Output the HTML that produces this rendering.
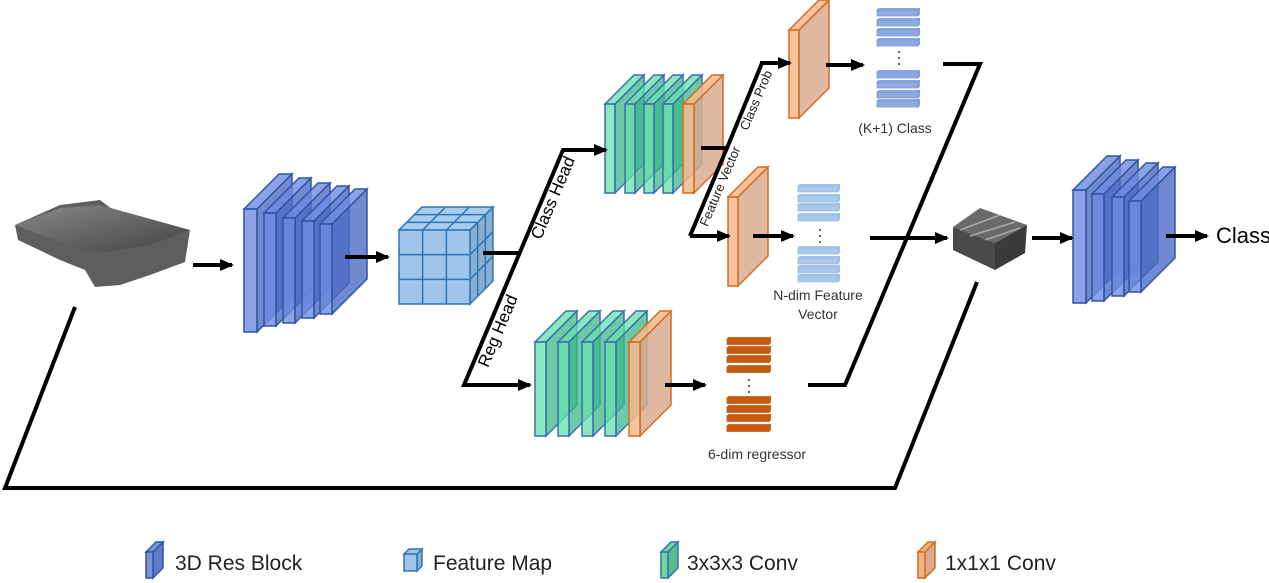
<!DOCTYPE html>
<html><head><meta charset="utf-8"><style>
html,body{margin:0;padding:0;background:#fff;}
svg{display:block;font-family:"Liberation Sans",sans-serif;}
</style></head><body>
<svg id="s" width="1269" height="583" viewBox="0 0 1269 583" xmlns="http://www.w3.org/2000/svg">
<defs>
<marker id="a" markerWidth="14" markerHeight="12" refX="12" refY="6" orient="auto" markerUnits="userSpaceOnUse"><path d="M0,0 L14,6 L0,12 z" fill="#000"/></marker>
<linearGradient id="gi" x1="0" y1="0" x2="1" y2="1"><stop offset="0" stop-color="#888"/><stop offset="0.5" stop-color="#666"/><stop offset="1" stop-color="#444"/></linearGradient>
</defs>
<g id="shapes"></g>
<!-- input volume -->
<polygon points="15,225 60,205 100,200 120,215 190,230 185,262 150,275 120,285 95,287 85,270 60,260 35,248 18,240" fill="#5e5e5e"/>
<polygon points="15,225 60,208 100,205 190,230 150,245 110,252 80,250" fill="url(#gi)"/>
<!-- tile -->
<polygon points="953,227 980,208 1027,225 995,243" fill="#6a6a6a"/>
<polygon points="953,227 995,243 995,270 953,250" fill="#4a4a4a"/>
<polygon points="995,243 1027,225 1025,253 995,270" fill="#3a3a3a"/>
<path d="M960,230 L1000,215 M970,236 L1015,222 M985,240 L1020,228" stroke="#aaa" stroke-width="1.5" fill="none"/>
<g stroke="#000" stroke-width="4" fill="none">
<line x1="193" y1="265" x2="232" y2="265" marker-end="url(#a)"/>
<line x1="345" y1="257" x2="388" y2="257" marker-end="url(#a)"/>
<polyline points="483,253 520,253"/>
<polyline points="605,150 563,150 464,385 530,385" marker-end="url(#a)"/>
<line x1="563" y1="150" x2="606" y2="150" marker-end="url(#a)"/>
<polyline points="701,148 727,148"/>
<polyline points="762,63 727,148 690,236"/>
<line x1="760" y1="63" x2="790" y2="63" marker-end="url(#a)"/>
<polyline points="690,236 729,236" marker-end="url(#a)"/>
<line x1="826" y1="65" x2="863" y2="65" marker-end="url(#a)"/>
<line x1="753" y1="236" x2="793" y2="236" marker-end="url(#a)"/>
<line x1="665" y1="385" x2="705" y2="385" marker-end="url(#a)"/>
<polyline points="808,385 845,385 980,64 943,64"/>
<line x1="870" y1="238" x2="947" y2="238" marker-end="url(#a)"/>
<line x1="1032" y1="238" x2="1072" y2="238" marker-end="url(#a)"/>
<line x1="1166" y1="236" x2="1207" y2="236" marker-end="url(#a)"/>
<polyline points="75,307 5,488 895,488 977,282"/>
</g>
<g font-size="17" fill="#000">
<text transform="translate(558,200) rotate(-67)" text-anchor="middle">Class Head</text>
<text transform="translate(503,333) rotate(-67)" text-anchor="middle">Reg Head</text>
</g>
<g font-size="13" fill="#222">
<text transform="translate(724,188) rotate(-67)" text-anchor="middle">Feature Vector</text>
<text transform="translate(760,102) rotate(-67)" text-anchor="middle">Class Prob</text>
</g>
<g font-size="14" fill="#333" text-anchor="middle">
<text x="895" y="133">(K+1) Class</text>
<text x="818" y="300">N-dim Feature</text>
<text x="818" y="319">Vector</text>
<text x="757" y="459">6-dim regressor</text>
</g>
<text x="1216" y="243" font-size="22" fill="#000">Class</text>
<g font-size="21" fill="#222">
<text x="175" y="570">3D Res Block</text>
<text x="433" y="570">Feature Map</text>
<text x="687" y="570">3x3x3 Conv</text>
<text x="945" y="570">1x1x1 Conv</text>
</g>
</svg>
<script>
var g=document.getElementById('shapes'),NS='http://www.w3.org/2000/svg';
function P(pts,fill,stroke,op,sw){var p=document.createElementNS(NS,'polygon');p.setAttribute('points',pts.map(function(q){return q.join(',')}).join(' '));p.setAttribute('fill',fill);p.setAttribute('stroke',stroke);p.setAttribute('stroke-width',sw||'1.5');p.setAttribute('fill-opacity',op);g.appendChild(p);}
function S(x,y,w,h,d,f,sd,st,op,sw){
P([[x+w,y],[x+w+d,y-d],[x+w+d,y+h-d],[x+w,y+h]],sd,st,op,sw);
P([[x,y],[x+d,y-d],[x+w+d,y-d],[x+w,y]],f,st,op,sw);
P([[x,y],[x+w,y],[x+w,y+h],[x,y+h]],f,st,op,sw);}
var B=['#6f8be0','#4d6cc4','#2f55a5',0.8],G=['#66e0a8','#3cb88a','#3a6fb0',0.75],O=['#f6b88e','#d9ac92','#d46d1f',0.85];
function L(arr,d,c){arr.forEach(function(r){S(r[0],r[1],r[2],r[3],d,c[0],c[1],c[2],c[3]);});}
L([[244,209,13,123],[264,213,12,113],[283,218,12,105],[302,221,12,97],[320,224,12,90]],35,B);
L([[1073,190,13,113],[1092,194,12,107],[1112,197,12,99],[1129,201,12,91]],34,B);
(function(){var x=399,y=230,w=71,h=74,d=23,c='#9fc5ea',s='#2e75b6';
P([[x+w,y],[x+w+d,y-d],[x+w+d,y+h-d],[x+w,y+h]],'#8aaecf',s,1);
P([[x,y],[x+d,y-d],[x+w+d,y-d],[x+w,y]],'#a9cdee',s,1);
P([[x,y],[x+w,y],[x+w,y+h],[x,y+h]],c,s,1);
for(var i=1;i<3;i++){
P([[x+w*i/3,y],[x+w*i/3,y+h]],'none',s,1);P([[x,y+h*i/3],[x+w,y+h*i/3]],'none',s,1);
P([[x+w*i/3,y],[x+w*i/3+d,y-d]],'none',s,1);P([[x+d*i/3,y-d*i/3],[x+w+d*i/3,y-d*i/3]],'none',s,1);
P([[x+w+d*i/3,y-d*i/3],[x+w+d*i/3,y+h-d*i/3]],'none',s,1);P([[x+w,y+h*i/3],[x+w+d,y+h*i/3-d]],'none',s,1);}
})();
L([[605,104,10,89],[625,104,10,89],[644,104,10,89],[663,104,10,89]],29,G);
L([[683,104,11,89]],29,O);
L([[535,342,11,94],[558,342,11,94],[582,342,11,94],[605,342,11,94]],31,G);
L([[629,342,11,94]],31,O);
L([[789,30,10,88]],30,O);L([[728,197,10,89]],30,O);
function bars(x,w,ys,h,c,st){ys.forEach(function(y){S(x,y,w,h,1.5,c,c,st,1,'0.8');});}
bars(877,41,[10,20,30,40,72,82,92,101],6,'#8eaadf','#7b98d6');
bars(798,40,[186,196,205,215,248,258,267,276],6,'#a9c9ec','#96bbe4');
bars(727,42,[339,348,357,367,398,407,416,426],5.5,'#c55a11','#c55a11');
[[899,52],[899,58],[899,64],[820,230],[820,236],[820,242],[749,380],[749,386],[749,392]].forEach(function(p){var c=document.createElementNS(NS,'circle');c.setAttribute('cx',p[0]);c.setAttribute('cy',p[1]);c.setAttribute('r',1);c.setAttribute('fill','#333');g.appendChild(c);});
S(146,552,7,26,10,'#7b93d8','#5f7cc8','#2f55a5',1);
S(404,554,13,17,5,'#9fc5ea','#8aaecf','#2e75b6',1);
S(661,552,7,26,10,'#6fd6a0','#55c08c','#3a6fb0',1);
S(918,552,7,26,10,'#f4b183','#d9ac92','#d46d1f',1);
</script>
</body></html>
